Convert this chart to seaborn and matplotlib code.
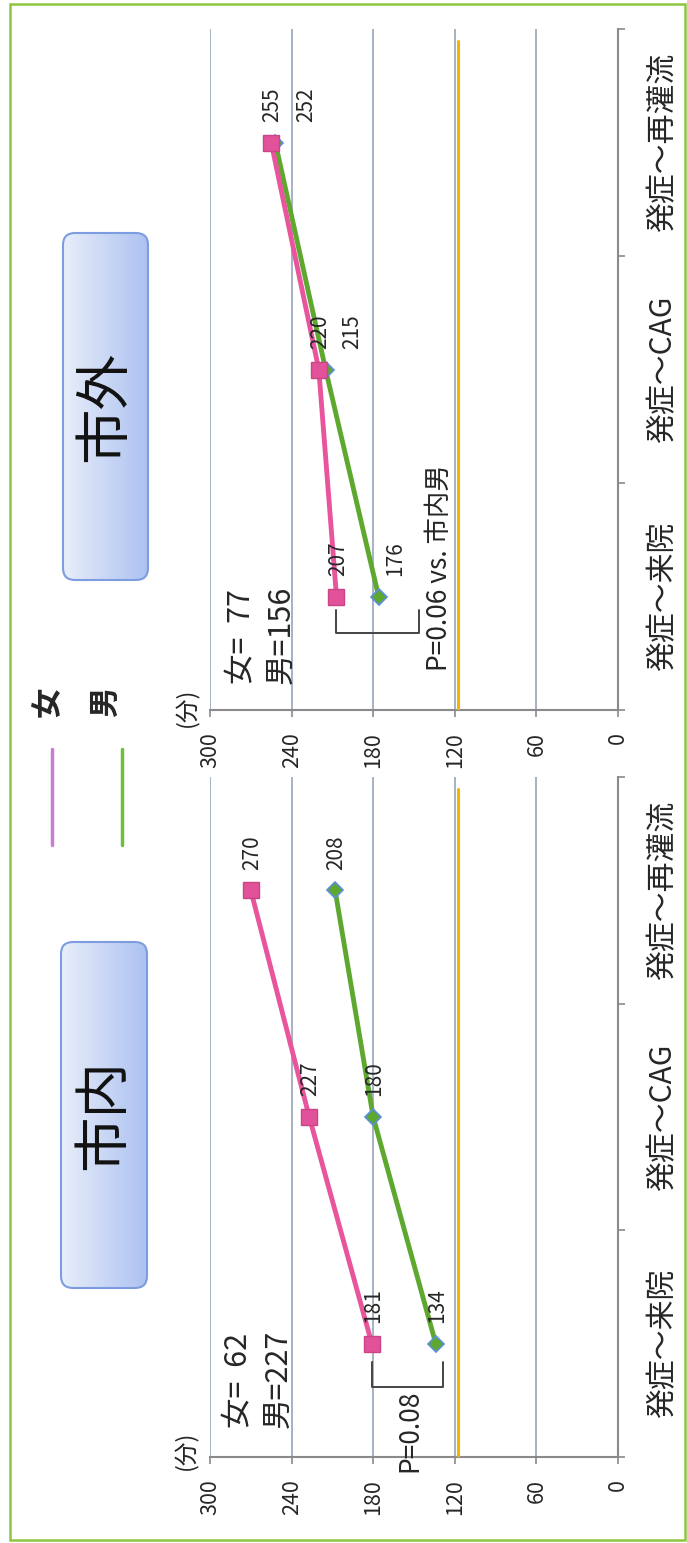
import numpy as np
import matplotlib
matplotlib.use('Agg')
import matplotlib.pyplot as plt
from matplotlib.patches import FancyBboxPatch, Rectangle
from matplotlib.colors import to_rgb
import seaborn as sns

# 工程（縦に並べる）
categories = ['発症～来院', '発症～CAG', '発症～再灌流']
value_ticks = [0, 60, 120, 180, 240, 300]

# 市内（分）
shinai_female = [181, 227, 270]
shinai_male = [134, 180, 208]
# 市外（分）
shigai_female = [207, 220, 255]
shigai_male = [176, 215, 252]

target_minutes = 118

sns.set_style('white')
plt.rcParams['font.family'] = ['Noto Sans CJK JP', 'DejaVu Sans']

W, H = 687, 1543
PINK = '#e8559c'
GREEN = '#5fa82f'
GRID = '#8e9db3'
AXIS = '#8a8a8a'


def rect_px(x0, y0, x1, y1):
    return [x0 / W, 1 - y1 / H, (x1 - x0) / W, (y1 - y0) / H]


def draw_panel(ax, female, male, male_dx):
    pos = np.arange(len(categories))
    sns.lineplot(x=male, y=pos, orient='y', sort=False, errorbar=None, ax=ax,
                 color=GREEN, linewidth=3.5, marker='D', markersize=8,
                 markerfacecolor=GREEN, markeredgecolor='#5b8fd9',
                 markeredgewidth=1.2, zorder=4)
    sns.lineplot(x=female, y=pos, orient='y', sort=False, errorbar=None, ax=ax,
                 color=PINK, linewidth=3.5, marker='s', markersize=11,
                 markerfacecolor='#e2529a', markeredgecolor='#c94585',
                 markeredgewidth=1.0, zorder=5)

    for v, p in zip(female, pos):
        ax.annotate(str(v), (v, p), xytext=(1, 15), textcoords='offset points',
                    rotation=90, ha='center', va='bottom', fontsize=15, zorder=6)
    for v, p, dx in zip(male, pos, male_dx):
        ax.annotate(str(v), (v, p), xytext=(dx, 15), textcoords='offset points',
                    rotation=90, ha='center', va='bottom', fontsize=15, zorder=6)

    ax.axvline(target_minutes, ymax=0.983, color='#f5b400', linewidth=2.2, zorder=3)

    ax.set_xlim(300, 0)
    ax.set_ylim(-0.5, len(categories) - 0.5)
    ax.set_xticks(value_ticks)
    ax.set_xticklabels([str(t) for t in value_ticks], rotation=90, fontsize=15.5)
    ax.grid(axis='x', color=GRID, linewidth=1.1)
    ax.grid(axis='y', visible=False)
    ax.set_axisbelow(True)

    ax.yaxis.tick_right()
    ax.set_yticks(pos)
    ax.set_yticklabels(categories, rotation=90, va='center', fontsize=21.5)
    ax.set_yticks(np.arange(-0.5, len(categories), 1.0), minor=True)
    ax.tick_params(axis='y', which='major', length=0, pad=21)
    ax.tick_params(axis='y', which='minor', length=5, width=1.2, color=AXIS,
                   direction='out', right=True, left=False)
    ax.tick_params(axis='x', length=5, width=1.2, color=AXIS, direction='out',
                   pad=11, bottom=True)
    for s in ['top', 'left']:
        ax.spines[s].set_visible(False)
    for s in ['bottom', 'right']:
        ax.spines[s].set_color(AXIS)
        ax.spines[s].set_linewidth(1.5)
    ax.set_xlabel('')
    ax.set_ylabel('')


def bracket(ax, x_left, x_right, y_top, y_bottom):
    ax.plot([x_left, x_left, x_right, x_right], [y_top, y_bottom, y_bottom, y_top],
            color='#444444', linewidth=1.4, zorder=6, clip_on=False)


fig = plt.figure(figsize=(W / 100, H / 100), dpi=100)
fig.patch.set_facecolor('white')

ax_out = fig.add_axes(rect_px(210, 29, 618, 710))
ax_in = fig.add_axes(rect_px(210, 777, 618, 1457))

draw_panel(ax_out, shigai_female, shigai_male, male_dx=[12, 19, 22])
draw_panel(ax_in, shinai_female, shinai_male, male_dx=[1, 1, 1])

# 有意差の括弧
bracket(ax_out, shigai_female[0], 146, -0.06, -0.16)
ax_out.text(131, -0.33, 'P=0.06 vs. 市内男', rotation=90, ha='center', va='bottom',
            fontsize=19, zorder=6)
bracket(ax_in, shinai_female[0], 129, -0.08, -0.19)
ax_in.text(153, -0.2, 'P=0.08', rotation=90, ha='center', va='top',
           fontsize=19, zorder=6, clip_on=False)

# 装飾（ピクセル座標）
deco = fig.add_axes([0, 0, 1, 1])
deco.patch.set_visible(False)
deco.axis('off')


def title_box(x0, y0, x1, y1, text):
    box = FancyBboxPatch((x0, y0), x1 - x0, y1 - y0,
                         boxstyle='round,pad=0,rounding_size=12',
                         fc='none', ec='#7d9de0', lw=1.5, zorder=3)
    deco.add_patch(box)
    c0 = np.array(to_rgb('#e8eefa'))
    c1 = np.array(to_rgb('#adc2f1'))
    t = np.linspace(0, 1, 64)[None, :, None]
    img = c0 + (c1 - c0) * t
    im = deco.imshow(img, extent=(x0, x1, y1, y0), aspect='auto', zorder=2)
    im.set_clip_path(box)
    deco.text((x0 + x1) / 2, (y0 + y1) / 2, text, rotation=90, ha='center',
              va='center', fontsize=40, color='#111111', zorder=4)


title_box(63, 233, 148, 580, '市外')
title_box(61, 942, 147, 1288, '市内')

# 凡例
deco.plot([52, 52], [749, 845], color='#c47fd1', linewidth=2.5)
deco.plot([122, 122], [749, 845], color='#6ebf3c', linewidth=2.5)
deco.text(48, 702, '女', rotation=90, ha='center', va='center', fontsize=22,
          fontweight='bold')
deco.text(105, 702, '男', rotation=90, ha='center', va='center', fontsize=22,
          fontweight='bold')

# 人数
deco.text(242, 684, '女=  77', rotation=90, ha='center', va='bottom', fontsize=22)
deco.text(281, 684, '男=156', rotation=90, ha='center', va='bottom', fontsize=22)
deco.text(239, 1428, '女=  62', rotation=90, ha='center', va='bottom', fontsize=22)
deco.text(278, 1428, '男=227', rotation=90, ha='center', va='bottom', fontsize=22)

# 単位
deco.text(187, 727, '(分)', rotation=90, ha='center', va='bottom', fontsize=17)
deco.text(186, 1470, '(分)', rotation=90, ha='center', va='bottom', fontsize=17)

# 外枠
deco.add_patch(Rectangle((10, 4), 675, 1536, fc='none', ec='#8cc540', lw=1.8))

deco.set_xlim(0, W)
deco.set_ylim(H, 0)

fig.savefig('out.png', dpi=100)
